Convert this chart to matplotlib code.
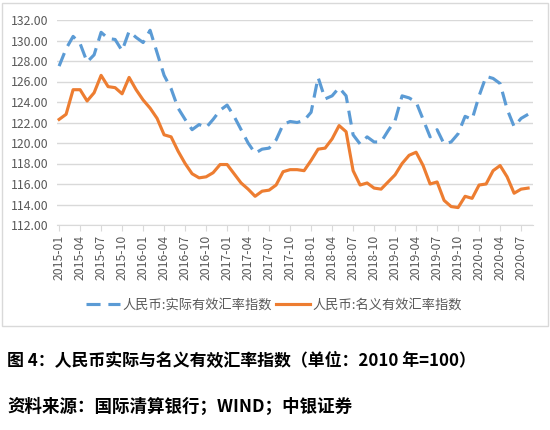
import pandas as pd
import matplotlib.pyplot as plt
from matplotlib.patches import Rectangle

plt.rcParams['font.family'] = ['Noto Sans CJK SC', 'DejaVu Sans']

# 月度数据 2015-01 ~ 2020-08
months = pd.date_range('2015-01-01', '2020-08-01', freq='MS').strftime('%Y-%m').tolist()

reer = [127.5, 129.2, 130.4, 129.7, 127.9, 128.6, 130.8, 130.2, 130.1, 129.0,
        130.9, 130.3, 129.8, 131.0, 128.8, 126.6, 125.3, 123.4, 122.3, 121.3,
        121.8, 121.5, 122.3, 123.2, 123.7, 122.6, 121.3, 120.0, 119.0, 119.4,
        119.5, 120.3, 121.8, 122.1, 122.0, 122.2, 123.0, 126.4, 124.3, 124.6,
        125.4, 124.6, 120.8, 119.9, 120.6, 120.1, 120.1, 121.2, 122.2, 124.6,
        124.4, 124.0, 122.3, 120.6, 121.3, 119.9, 120.1, 120.9, 122.6, 122.3,
        124.6, 126.5, 126.3, 125.8, 123.3, 121.6, 122.4, 122.8]

neer = [122.3, 122.8, 125.2, 125.2, 124.1, 124.9, 126.6, 125.5, 125.4, 124.8,
        126.4, 125.2, 124.2, 123.4, 122.4, 120.8, 120.6, 119.2, 118.0, 117.0,
        116.6, 116.7, 117.1, 117.9, 117.9, 117.0, 116.1, 115.5, 114.8, 115.3,
        115.4, 115.9, 117.2, 117.4, 117.4, 117.3, 118.3, 119.4, 119.5, 120.4,
        121.7, 121.1, 117.3, 115.9, 116.1, 115.6, 115.5, 116.2, 116.9, 118.0,
        118.8, 119.1, 117.8, 116.0, 116.2, 114.4, 113.8, 113.7, 114.8, 114.6,
        115.9, 116.0, 117.3, 117.8, 116.7, 115.1, 115.5, 115.6]

names = ['人民币:实际有效汇率指数', '人民币:名义有效汇率指数']
caption = '图 4：人民币实际与名义有效汇率指数（单位：2010 年=100）'
source = '资料来源：国际清算银行；WIND；中银证券'

fig = plt.figure(figsize=(5.5, 4.3), dpi=100)
ax = fig.add_axes([57 / 550, 1 - 225 / 430, 476 / 550, 205 / 430])

x = list(range(len(months)))
ax.plot(x, reer, color='#5B9BD5', lw=2.25, dashes=(4.5, 2.5), label=names[0])
ax.plot(x, neer, color='#ED7D31', lw=2.25, label=names[1])

ax.set_ylim(112, 132)
ax.set_yticks(range(112, 133, 2))
ax.set_yticklabels([f'{v:.2f}' for v in range(112, 133, 2)])
ax.set_xlim(-0.3, len(months) - 0.3)
ax.set_xticks(x[::3])
ax.set_xticklabels(months[::3], rotation=90)

ax.grid(axis='y', color='#d9d9d9', lw=1)
ax.set_axisbelow(True)
for s in ['top', 'right', 'left']:
    ax.spines[s].set_visible(False)
ax.spines['bottom'].set_color('#d9d9d9')
ax.tick_params(axis='y', length=0, labelsize=8.8, labelcolor='#595959', pad=6)
ax.tick_params(axis='x', length=4, color='#d9d9d9', labelsize=8.8, labelcolor='#595959', pad=3)

fig.legend(loc='center', bbox_to_anchor=(274 / 550, 1 - 305 / 430), ncol=2, frameon=False,
           fontsize=9.5, handlelength=2.6, columnspacing=0.3, handletextpad=0.2,
           labelcolor='#595959')

# 图表外框
fig.add_artist(Rectangle((2 / 550, 1 - 326 / 430), 546 / 550, 323 / 430,
                         transform=fig.transFigure, fill=False, edgecolor='#d9d9d9', lw=1))

fig.text(7 / 550, 1 - 361 / 430, caption, fontsize=12.2, fontweight='bold', va='center')
fig.text(7 / 550, 1 - 407 / 430, source, fontsize=12.6, fontweight='bold', va='center')

fig.savefig('out.png', dpi=100)
